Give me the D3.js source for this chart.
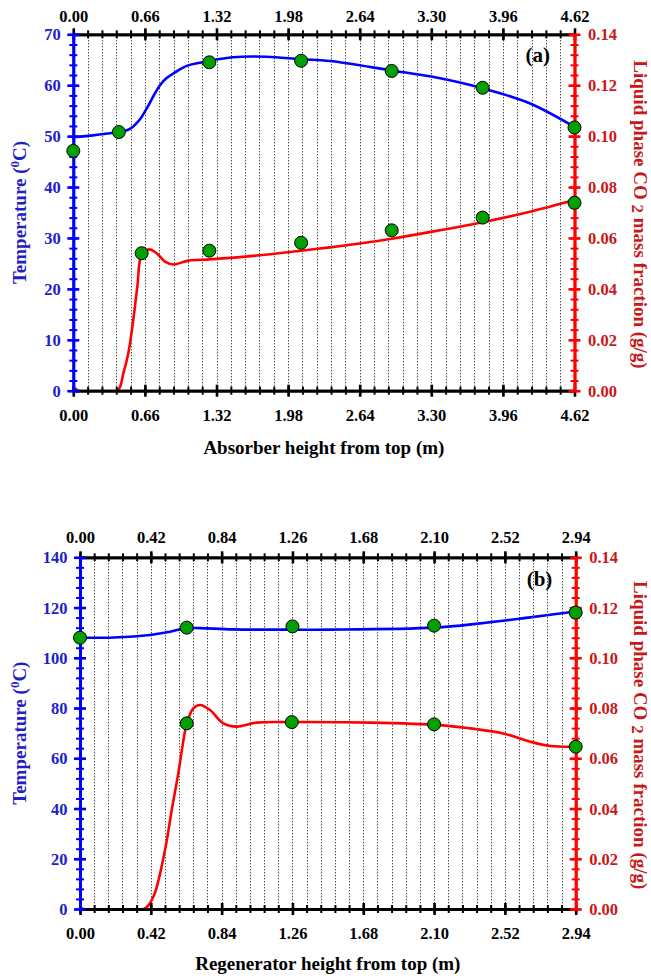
<!DOCTYPE html>
<html><head><meta charset="utf-8">
<script src="https://cdn.jsdelivr.net/npm/d3@7"></script>
<style>
body{margin:0;background:#fff}
svg{display:block}
text{font-family:"Liberation Serif","Times New Roman",serif;font-weight:bold}
</style>
</head><body>
<svg id="c" width="651" height="979"></svg>
<script>
// ---------- Panel (a): absorber ----------
const absXTicks = ["0.00","0.66","1.32","1.98","2.64","3.30","3.96","4.62"];
const absTempTicks = [0,10,20,30,40,50,60,70];
const co2Ticks = ["0.00","0.02","0.04","0.06","0.08","0.10","0.12","0.14"];

const absTempMarkX = [0, 0.42, 1.254, 2.10, 2.935, 3.773, 4.62];
const absTempMarkY = [47.1, 50.8, 64.5, 64.8, 62.8, 59.5, 51.7];
const absCO2MarkX = [0.63, 1.254, 2.10, 2.935, 3.773, 4.62];
const absCO2MarkY = [0.054, 0.055, 0.0581, 0.063, 0.068, 0.0738];

const absTempCurveX = [0, 0.2, 0.42, 0.5, 0.553, 0.615, 0.676, 0.737, 0.799, 0.86, 0.922, 1.045, 1.168, 1.254, 1.47, 1.78, 2.1, 2.366, 2.935, 3.3, 3.773, 4.2, 4.62];
const absTempCurveY = [49.8, 50.2, 50.8, 51.2, 51.9, 53.3, 55.4, 57.8, 60.0, 61.4, 62.3, 63.8, 64.4, 64.8, 65.5, 65.6, 65.1, 64.75, 62.9, 61.7, 59.4, 56.5, 51.8];

const absCO2CurveX = [0, 0.046, 0.405, 0.461, 0.507, 0.553, 0.59, 0.63, 0.70, 0.768, 0.845, 0.922, 1.06, 1.26, 1.72, 2.10, 2.366, 2.64, 2.935, 3.27, 3.773, 4.2, 4.62];
const absCO2CurveY = [0.0016, 0, 0, 0.0068, 0.0147, 0.0278, 0.0408, 0.0533, 0.0555, 0.054, 0.0507, 0.0496, 0.0511, 0.0516, 0.0532, 0.0550, 0.0563, 0.0578, 0.0597, 0.0622, 0.0662, 0.0702, 0.0749];

// ---------- Panel (b): regenerator ----------
const regXTicks = ["0.00","0.42","0.84","1.26","1.68","2.10","2.52","2.94"];
const regTempTicks = [0,20,40,60,80,100,120,140];

const regTempMarkX = [0, 0.633, 1.26, 2.10, 2.94];
const regTempMarkY = [108.0, 112.0, 112.5, 112.8, 118.0];
const regCO2MarkX = [0.633, 1.256, 2.10, 2.94];
const regCO2MarkY = [0.0739, 0.0744, 0.0735, 0.0646];

const regTempCurveX = [0, 0.2, 0.415, 0.534, 0.633, 0.712, 0.909, 1.26, 1.483, 2.10, 2.373, 2.67, 2.94];
const regTempCurveY = [108, 108.1, 109.1, 110.4, 111.8, 111.8, 111.3, 111.2, 111.2, 112.0, 113.7, 116.1, 118.4];

const regCO2CurveX = [0, 0.02, 0.38, 0.435, 0.504, 0.544, 0.583, 0.617, 0.633, 0.672, 0.712, 0.771, 0.85, 0.929, 1.048, 1.256, 1.72, 2.135, 2.313, 2.51, 2.67, 2.79, 2.94];
const regCO2CurveY = [0.0008, 0, 0, 0.0049, 0.0235, 0.0394, 0.054, 0.0686, 0.0739, 0.0799, 0.0812, 0.0792, 0.0739, 0.0726, 0.0742, 0.0744, 0.0742, 0.0732, 0.0719, 0.0699, 0.0666, 0.0649, 0.0646];

const svg = d3.select("#c");
const BLUE = "#0000ff", BLUE_T = "#2020c8", RED = "#ff0000", RED_T = "#c81818";

function zip(a, b){ return a.map((v,i)=>[v, b[i]]); }

let panelId = 0;
function drawPanel(o){
  const g = svg.append("g");
  const xMax = +o.xTicks[o.xTicks.length-1];
  const tMax = o.tTicks[o.tTicks.length-1];
  const x = d3.scaleLinear().domain([0, xMax]).range([o.left, o.right]);
  const yL = d3.scaleLinear().domain([0, tMax]).range([o.bottom, o.top]);
  const yR = d3.scaleLinear().domain([0, 0.14]).range([o.bottom, o.top]);

  const xMajor = o.xTicks.map(Number);
  const xMinor = d3.range(0, 36).map(i => i * xMax / 35);
  const tMinor = d3.range(0, 36).map(i => i * tMax / 35);
  const rMinor = d3.range(0, 36).map(i => i * 0.14 / 35);

  const cid = "clip" + (panelId++);
  svg.append("clipPath").attr("id", cid).append("rect")
    .attr("x", o.left - 10).attr("y", o.top - 10)
    .attr("width", o.right - o.left + 20).attr("height", o.bottom - o.top + 10);

  // dotted grid
  g.append("g").selectAll("line").data(xMinor.slice(1, -1)).join("line")
    .attr("x1", d => Math.round(x(d)) + 0.5).attr("x2", d => Math.round(x(d)) + 0.5)
    .attr("y1", o.top).attr("y2", o.bottom)
    .attr("stroke", "#000").attr("stroke-width", 1)
    .attr("stroke-dasharray", "1,2");

  // curves
  const crv = d3.curveCatmullRom.alpha(0.5);
  const lineL = d3.line().x(d => x(d[0])).y(d => yL(d[1])).curve(crv);
  const lineR = d3.line().x(d => x(d[0])).y(d => yR(d[1])).curve(crv);
  const cg = g.append("g").attr("clip-path", `url(#${cid})`);
  cg.append("path").attr("d", lineL(zip(o.tcX, o.tcY)))
    .attr("fill", "none").attr("stroke", BLUE).attr("stroke-width", 2.6);
  cg.append("path").attr("d", lineR(zip(o.ccX, o.ccY)))
    .attr("fill", "none").attr("stroke", RED).attr("stroke-width", 2.6);

  function styleCross(sel, major, horizontal, color){
    const len = major ? 6 : 4;
    sel.selectAll(".tick line")
      .attr(horizontal ? "x1" : "y1", -len).attr(horizontal ? "x2" : "y2", len)
      .attr("stroke", color).attr("stroke-width", major ? 2.6 : 2);
    sel.select(".domain").attr("stroke", color).attr("stroke-width", 2.8);
  }

  // x axes (bottom & top)
  [[d3.axisBottom, o.bottom, 30], [d3.axisTop, o.top, -o.topPad]].forEach(([fn, yy, ty]) => {
    const minorG = g.append("g").attr("transform", `translate(0,${yy})`)
      .call(fn(x).tickValues(xMinor).tickFormat("").tickSizeOuter(0));
    styleCross(minorG, false, false, "#000");
    const majG = g.append("g").attr("transform", `translate(0,${yy})`)
      .call(fn(x).tickValues(xMajor).tickFormat((d,i) => o.xTicks[i]).tickSizeOuter(0));
    styleCross(majG, true, false, "#000");
    majG.selectAll(".tick text").attr("y", ty).attr("dy", null)
      .attr("fill", "#000").attr("font-size", 16.5);
  });

  // left axis
  const lMin = g.append("g").attr("transform", `translate(${o.left},0)`)
    .call(d3.axisLeft(yL).tickValues(tMinor).tickFormat("").tickSizeOuter(0));
  styleCross(lMin, false, true, BLUE);
  const lMaj = g.append("g").attr("transform", `translate(${o.left},0)`)
    .call(d3.axisLeft(yL).tickValues(o.tTicks).tickFormat(d3.format("d")).tickSizeOuter(0));
  styleCross(lMaj, true, true, BLUE);
  lMaj.selectAll(".tick text").attr("x", -12.5).attr("dy", "0.34em")
    .attr("fill", BLUE_T).attr("font-size", 16.5);

  // right axis
  const rMin = g.append("g").attr("transform", `translate(${o.right},0)`)
    .call(d3.axisRight(yR).tickValues(rMinor).tickFormat("").tickSizeOuter(0));
  styleCross(rMin, false, true, RED);
  const rMaj = g.append("g").attr("transform", `translate(${o.right},0)`)
    .call(d3.axisRight(yR).tickValues(co2Ticks.map(Number)).tickFormat((d,i) => co2Ticks[i]).tickSizeOuter(0));
  styleCross(rMaj, true, true, RED);
  rMaj.selectAll(".tick text").attr("x", 13.5).attr("dy", "0.34em")
    .attr("fill", RED_T).attr("font-size", 16.5);

  // markers
  const mk = g.append("g");
  mk.selectAll("circle.t").data(zip(o.tmX, o.tmY)).join("circle")
    .attr("cx", d => x(d[0])).attr("cy", d => yL(d[1])).attr("r", 6.5)
    .attr("fill", "#00a000").attr("stroke", "#000").attr("stroke-width", 1);
  mk.selectAll("circle.c").data(zip(o.cmX, o.cmY)).join("circle")
    .attr("cx", d => x(d[0])).attr("cy", d => yR(d[1])).attr("r", 6.5)
    .attr("fill", "#00a000").attr("stroke", "#000").attr("stroke-width", 1);

  // panel tag
  g.append("text").attr("x", o.right - 49).attr("y", o.top + o.tagDy)
    .attr("font-size", 21).attr("fill", "#000").text(o.tag);

  // x title
  g.append("text").attr("x", (o.left + o.right) / 2).attr("y", o.bottom + o.xTitleDy)
    .attr("text-anchor", "middle").attr("font-size", 19).attr("fill", "#000").text(o.xTitle);

  // left title
  const cy = (o.top + o.bottom) / 2;
  const lt = g.append("text").attr("transform", `translate(26,${cy}) rotate(-90)`)
    .attr("text-anchor", "middle").attr("font-size", 19).attr("fill", BLUE_T);
  lt.append("tspan").text("Temperature (");
  lt.append("tspan").attr("font-size", 13).attr("dy", -7).text("0");
  lt.append("tspan").attr("dy", 7).text("C)");

  // right title
  const rt = g.append("text").attr("transform", `translate(634,${cy + 2}) rotate(90)`)
    .attr("text-anchor", "middle").attr("font-size", 19).attr("fill", RED_T);
  rt.append("tspan").text("Liquid phase CO ");
  rt.append("tspan").attr("font-size", 17).attr("dy", 2).text("2");
  rt.append("tspan").attr("dy", -2).text(" mass fraction (g/g)");
}

drawPanel({
  left: 73.3, right: 574.5, top: 34.3, bottom: 390.7, topPad: 12.6,
  xTicks: absXTicks, tTicks: absTempTicks,
  tmX: absTempMarkX, tmY: absTempMarkY, cmX: absCO2MarkX, cmY: absCO2MarkY,
  tcX: absTempCurveX, tcY: absTempCurveY, ccX: absCO2CurveX, ccY: absCO2CurveY,
  tag: "(a)", tagDy: 28, xTitle: "Absorber height from top (m)", xTitleDy: 63.5
});
drawPanel({
  left: 80, right: 575.7, top: 557.3, bottom: 909, topPad: 14,
  xTicks: regXTicks, tTicks: regTempTicks,
  tmX: regTempMarkX, tmY: regTempMarkY, cmX: regCO2MarkX, cmY: regCO2MarkY,
  tcX: regTempCurveX, tcY: regTempCurveY, ccX: regCO2CurveX, ccY: regCO2CurveY,
  tag: "(b)", tagDy: 29, xTitle: "Regenerator height from top (m)", xTitleDy: 61
});
</script>
</body></html>
